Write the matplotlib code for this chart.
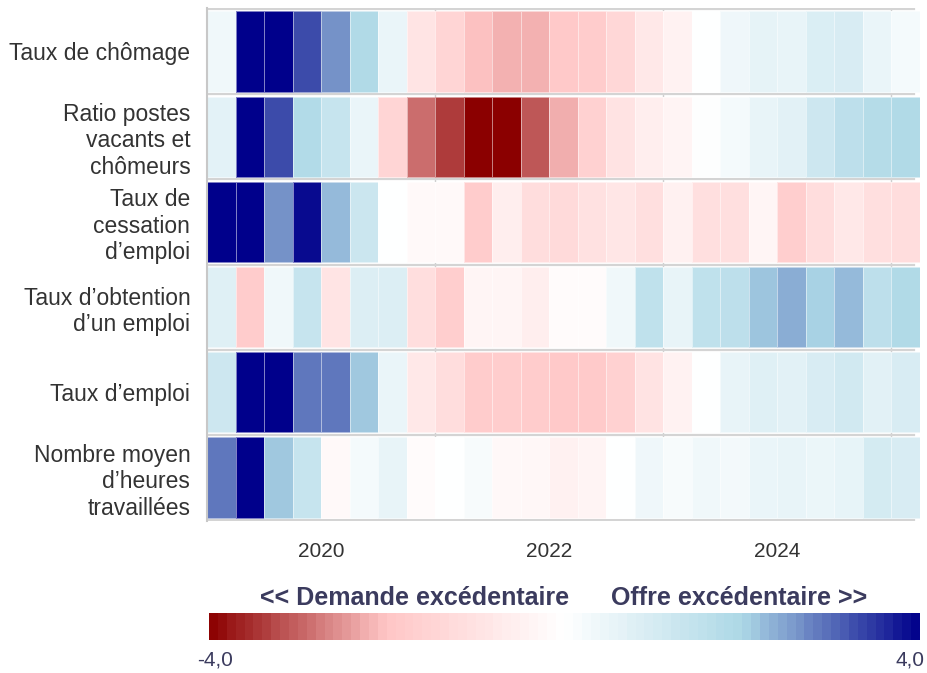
import matplotlib.pyplot as plt
import numpy as np
from matplotlib.colors import LinearSegmentedColormap, Normalize

plt.rcParams['font.family'] = ['Liberation Sans', 'DejaVu Sans']

# quarters 2019T1 .. 2025T1
quarters = np.arange(25)
start_year = 2019

rows = [
    "Taux de chômage",
    "Ratio postes\nvacants et\nchômeurs",
    "Taux de\ncessation\nd’emploi",
    "Taux d’obtention\nd’un emploi",
    "Taux d’emploi",
    "Nombre moyen\nd’heures\ntravaillées",
]

chomage = [0.37, 4.0, 4.0, 3.3, 2.65, 1.9, 0.5, -0.95, -1.5, -2.05, -2.2, -2.2, -1.9,
           -1.8, -1.4, -0.8, -0.45, 0.0, 0.4, 0.6, 0.55, 0.9, 0.95, 0.5, 0.25]
ratio_pv = [0.66, 4.0, 3.3, 1.85, 1.4, 0.5, -1.5, -2.9, -3.4, -4.0, -4.0, -3.1, -2.25,
            -1.6, -1.0, -0.6, -0.4, 0.05, 0.25, 0.55, 0.7, 1.2, 1.6, 1.8, 1.9]
cessation = [4.0, 4.0, 2.65, 3.9, 2.25, 1.25, 0.0, -0.2, -0.2, -1.8, -0.6, -1.2, -1.3,
             -1.05, -0.9, -1.1, -0.5, -1.1, -1.1, -0.35, -1.7, -1.2, -0.8, -1.1, -1.2]
obtention = [0.75, -1.8, 0.37, 1.4, -0.95, 0.85, 0.85, -1.15, -1.7, -0.35, -0.35, -0.6, -0.15,
             -0.15, 0.37, 1.55, 0.55, 1.55, 1.6, 2.16, 2.4, 2.05, 2.28, 1.6, 1.9]
emploi = [1.2, 4.0, 4.0, 2.9, 2.9, 2.15, 0.5, -0.8, -1.2, -1.8, -1.75, -1.8, -1.9,
          -1.85, -1.6, -1.0, -0.45, 0.0, 0.55, 0.75, 0.7, 0.95, 1.1, 0.7, 0.95]
heures = [2.9, 4.0, 2.15, 1.4, -0.2, 0.25, 0.55, -0.15, 0.02, 0.2, -0.25, -0.3, -0.5,
          -0.4, 0.0, 0.4, 0.2, 0.37, 0.3, 0.5, 0.55, 0.48, 0.57, 1.05, 0.95]

values = np.array([chomage, ratio_pv, cessation, obtention, emploi, heures])

year_ticks = [2020, 2022, 2024]
grid_years = [2021, 2023, 2025]

cmap = LinearSegmentedColormap.from_list(
    'ecart', [(0, '#8b0000'), (0.25, '#ffc6c6'), (0.5, '#ffffff'),
              (0.75, '#add8e6'), (1, '#00008b')])
norm = Normalize(-4, 4)

fig = plt.figure(figsize=(9.28, 6.73), dpi=100)
W, H = 928, 673
ax = fig.add_axes([207 / W, 1 - 521 / H, 713 / W, 513 / H])

x_edges = start_year + np.append(quarters, 25) * 0.25
for i in range(len(rows)):
    ax.pcolormesh(x_edges, [i + 0.03, i + 0.97], values[i:i + 1], cmap=cmap, norm=norm,
                  edgecolors=(1, 1, 1, 0.5), linewidth=0.6, zorder=2)

for y in range(len(rows) + 1):
    ax.axhline(y, color='#d4d4d4', lw=1.6, zorder=1, xmax=(2025.2 - 2019) / 6.25)
for gx in grid_years:
    ax.axvline(gx, color='#cfcfcf', lw=1, zorder=0)

ax.set_xlim(2019, 2025.25)
ax.set_ylim(len(rows) + 0.01, -0.01)
ax.set_yticks(np.arange(len(rows)) + 0.5)
ax.set_yticklabels(rows, fontsize=16.5, color='#333333')
ax.set_xticks(year_ticks)
ax.set_xticklabels([str(y) for y in year_ticks], fontsize=15, color='#333333')
ax.tick_params(axis='both', length=0)
ax.tick_params(axis='y', pad=12)
ax.tick_params(axis='x', pad=15)
for s in ['top', 'right', 'bottom']:
    ax.spines[s].set_visible(False)
ax.spines['left'].set_color('#c8c8c8')
ax.spines['left'].set_linewidth(1.5)

# colour bar
cax = fig.add_axes([209 / W, 1 - 640 / H, 711 / W, 27 / H])
steps = np.linspace(-4, 4, 81)
cax.pcolormesh(steps, [0, 1], ((steps[:-1] + steps[1:]) / 2)[None, :], cmap=cmap, norm=norm)
cax.set_xlim(-4, 4)
cax.set_axis_off()

title_color = '#3b3b5e'
fig.text(569 / W, 1 - 598 / H, '<< Demande excédentaire', ha='right', va='center',
         fontsize=18, fontweight='bold', color=title_color)
fig.text(611 / W, 1 - 598 / H, 'Offre excédentaire >>', ha='left', va='center',
         fontsize=18, fontweight='bold', color=title_color)
fig.text(197 / W, 1 - 660 / H, '-4,0', ha='left', va='center', fontsize=15, color='#3b3b5e')
fig.text(925 / W, 1 - 660 / H, '4,0', ha='right', va='center', fontsize=15, color='#3b3b5e')

fig.savefig('out.png', dpi=100)
